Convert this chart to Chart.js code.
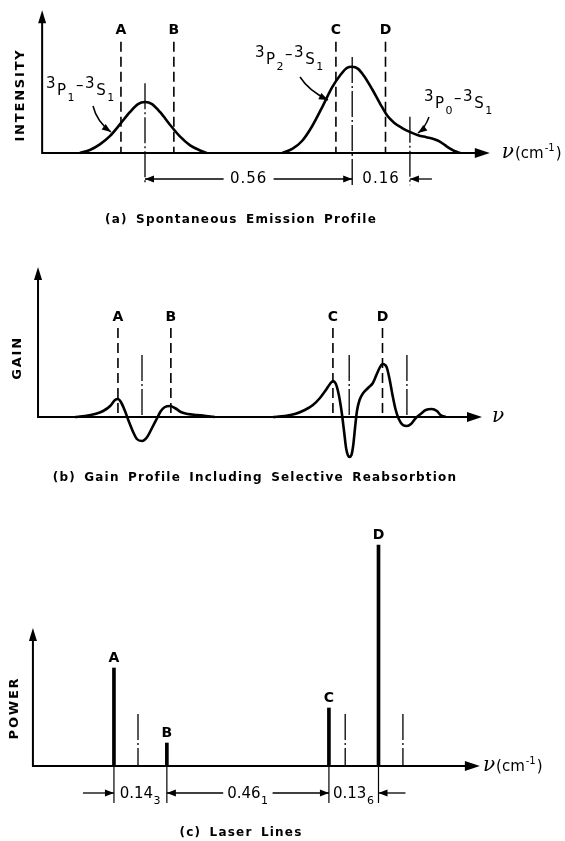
<!DOCTYPE html>
<html>
<head>
<meta charset="utf-8">
<script src="https://cdn.jsdelivr.net/npm/chart.js@4.4.0/dist/chart.umd.min.js"></script>
<style>
    html, body { margin: 0; padding: 0; background: #fff; }
    #wrap { position: relative; width: 565px; height: 841px; }
    .panel { position: absolute; left: 0; width: 565px; }
    canvas { display: block; }
</style>
</head>
<body>
<div id="wrap">
    <div class="panel" style="top:0"><canvas id="emission" width="565" height="235"></canvas></div>
    <div class="panel" style="top:235px"><canvas id="gain" width="565" height="255"></canvas></div>
    <div class="panel" style="top:490px"><canvas id="power" width="565" height="351"></canvas></div>
</div>
<script>
    "use strict";

    // Line positions, cm^-1 measured from the 3P1-3S1 centre
    var markerNames = ['A', 'B', 'C', 'D'];
    var markerPos = [-0.065, 0.078, 0.516, 0.650];
    var centrePos = [0, 0.56, 0.716];

    // (a) spontaneous emission profiles
    var emis1X = [-0.176, -0.149, -0.122, -0.095, -0.068, -0.041, -0.019, 0, 0.019, 0.041, 0.068, 0.095, 0.122, 0.149, 0.167];
    var emis1Y = [0, 0.06, 0.17, 0.33, 0.56, 0.80, 0.96, 1.0, 0.96, 0.80, 0.55, 0.32, 0.15, 0.05, 0];
    var emis2X = [0.371, 0.398, 0.425, 0.452, 0.479, 0.506, 0.528, 0.546, 0.56, 0.576, 0.592, 0.614, 0.636, 0.655, 0.674, 0.695, 0.717, 0.738, 0.76, 0.782, 0.798, 0.817, 0.836, 0.852];
    var emis2Y = [0, 0.08, 0.24, 0.53, 0.90, 1.29, 1.53, 1.67, 1.69, 1.65, 1.51, 1.25, 0.96, 0.73, 0.59, 0.49, 0.41, 0.35, 0.31, 0.27, 0.22, 0.12, 0.04, 0];
    var centreTopA = [1.37, 1.88, 0.71];
    var spacingA = ['0.56', '0.16'];

    // (b) gain with selective reabsorption
    var gain1X = [-0.181, -0.154, -0.127, -0.105, -0.086, -0.073, -0.065, -0.057, -0.046, -0.035, -0.024, -0.014, 0, 0.014, 0.027, 0.041, 0.051, 0.062, 0.076, 0.089, 0.105, 0.124, 0.149, 0.173, 0.197];
    var gain1Y = [0, 0.1, 0.3, 0.6, 1.1, 1.7, 1.8, 1.5, 0.6, -0.5, -1.5, -2.2, -2.4, -2.0, -1.1, -0.1, 0.6, 1.0, 1.1, 0.9, 0.5, 0.3, 0.2, 0.1, 0];
    var gain2X = [0.354, 0.386, 0.413, 0.440, 0.462, 0.481, 0.497, 0.508, 0.516, 0.524, 0.532, 0.540, 0.546, 0.552, 0.56, 0.566, 0.571, 0.576, 0.581, 0.588, 0.598, 0.611, 0.624, 0.637, 0.650, 0.661, 0.669, 0.677, 0.685, 0.694, 0.705, 0.716, 0.727, 0.740, 0.753, 0.767, 0.783, 0.797, 0.807, 0.821];
    var gain2Y = [0, 0.1, 0.3, 0.7, 1.2, 1.9, 2.7, 3.3, 3.6, 3.3, 2.2, 0.4, -1.4, -3.2, -4.0, -3.8, -2.8, -1.0, 0.6, 1.7, 2.4, 2.9, 3.4, 4.5, 5.3, 5.0, 3.8, 2.2, 0.8, -0.2, -0.8, -0.9, -0.7, -0.1, 0.3, 0.7, 0.8, 0.6, 0.2, 0];
    var centreTopB = 6.2;

    // (c) laser line powers
    var powerVals = [9.8, 2.3, 5.8, 22.1];
    var centreTopC = 5.2;
    var spacingC = ['0.14', '0.46', '0.13'];
    var spacingSubC = ['3', '1', '6'];

    var PX_PER_CM = 370;
    var SANS = '"DejaVu Sans"';

    function xy(xs, ys) {
        return xs.map(function (x, i) { return {x: x, y: ys[i]}; });
    }

    function curve(xs, ys) {
        return {type: 'line', data: xy(xs, ys), borderColor: '#000', borderWidth: 2.6,
            pointRadius: 0, cubicInterpolationMode: 'monotone', fill: false};
    }

    function seg(x, yFrom, yTo, width, dash) {
        return {type: 'line', data: [{x: x, y: yFrom}, {x: x, y: yTo}], borderColor: '#000',
            borderWidth: width, borderDash: dash, pointRadius: 0, tension: 0, fill: false};
    }

    function markerLines(top) {
        return markerPos.map(function (p) { return seg(p, top, 0, 1.6, [10, 5]); });
    }

    function centreLines(tops, bottom) {
        return centrePos.map(function (p, i) {
            var t = Array.isArray(tops) ? tops[i] : tops;
            return seg(p, t, bottom, 1.3, [26, 3, 2, 3]);
        });
    }

    function baseOptions(originPx, yRange) {
        return {
            responsive: false,
            animation: false,
            events: [],
            layout: {padding: 0, autoPadding: false},
            plugins: {legend: {display: false}, tooltip: {enabled: false}},
            elements: {point: {radius: 0}},
            scales: {
                x: {type: 'linear', min: -originPx / PX_PER_CM, max: (565 - originPx) / PX_PER_CM, display: false, offset: false},
                y: {type: 'linear', min: yRange[0], max: yRange[1], display: false}
            }
        };
    }

    // ---------- drawing helpers ----------
    function X(chart, v) { return chart.scales.x.getPixelForValue(v); }
    function Y(chart, v) { return chart.scales.y.getPixelForValue(v); }

    function arrowHead(ctx, x, y, ang, len, half) {
        var c = Math.cos(ang), s = Math.sin(ang);
        ctx.beginPath();
        ctx.moveTo(x, y);
        ctx.lineTo(x - len * c + half * s, y - len * s - half * c);
        ctx.lineTo(x - len * c - half * s, y - len * s + half * c);
        ctx.closePath();
        ctx.fill();
    }

    function drawAxes(chart, x0, x1, yTop) {
        var ctx = chart.ctx;
        var ox = X(chart, x0), oy = Y(chart, 0), ex = X(chart, x1), ty = Y(chart, yTop);
        ctx.save();
        ctx.strokeStyle = '#000';
        ctx.fillStyle = '#000';
        ctx.lineWidth = 2;
        ctx.beginPath();
        ctx.moveTo(ox, oy); ctx.lineTo(ex - 10, oy);
        ctx.moveTo(ox, oy + 1); ctx.lineTo(ox, ty + 10);
        ctx.stroke();
        arrowHead(ctx, ex, oy, 0, 15, 5);
        arrowHead(ctx, ox, ty, -Math.PI / 2, 13, 4);
        ctx.restore();
    }

    function label(ctx, txt, x, y, font, align, spacing) {
        ctx.save();
        ctx.font = font;
        ctx.fillStyle = '#000';
        ctx.textAlign = align || 'center';
        ctx.textBaseline = 'middle';
        if (spacing) { ctx.letterSpacing = spacing; ctx.wordSpacing = '3px'; }
        ctx.fillText(txt, x, y);
        ctx.restore();
    }

    function vertText(ctx, txt, x, y) {
        ctx.save();
        ctx.translate(x, y);
        ctx.rotate(-Math.PI / 2);
        label(ctx, txt, 0, 0, 'bold 13px ' + SANS, 'center', '1.8px');
        ctx.restore();
    }

    function run(ctx, x, y, pieces, gap) {
        ctx.save();
        ctx.fillStyle = '#000';
        ctx.textAlign = 'left';
        ctx.textBaseline = 'alphabetic';
        pieces.forEach(function (p) {
            ctx.font = p[2];
            ctx.fillText(p[0], x, y + p[1]);
            x += ctx.measureText(p[0]).width + (gap || 0);
        });
        ctx.restore();
        return x;
    }

    function runWidth(ctx, pieces, gap) {
        var w = 0;
        ctx.save();
        pieces.forEach(function (p) { ctx.font = p[2]; w += ctx.measureText(p[0]).width + (gap || 0); });
        ctx.restore();
        return w;
    }

    // spectroscopic term like 3P1-3S1
    function term(ctx, x, y, sub) {
        var big = '15px ' + SANS, small = '11px ' + SANS;
        run(ctx, x, y, [['3', 0, big], ['P', 7, big], [sub, 13, small], ['\u2013', 2, big],
            ['3', 0, big], ['S', 7, big], ['1', 13, small]], 1.5);
    }

    function curvedArrow(ctx, x0, y0, cx, cy, x1, y1) {
        ctx.save();
        ctx.lineWidth = 1.5;
        ctx.strokeStyle = '#000';
        ctx.fillStyle = '#000';
        ctx.beginPath();
        ctx.moveTo(x0, y0);
        ctx.quadraticCurveTo(cx, cy, x1, y1);
        ctx.stroke();
        arrowHead(ctx, x1, y1, Math.atan2(y1 - cy, x1 - cx), 9, 3.5);
        ctx.restore();
    }

    function dimArrow(ctx, xFrom, xTo, y) {
        ctx.save();
        ctx.lineWidth = 1.3;
        ctx.strokeStyle = '#000';
        ctx.fillStyle = '#000';
        ctx.beginPath();
        ctx.moveTo(xFrom, y); ctx.lineTo(xTo, y);
        ctx.stroke();
        arrowHead(ctx, xTo, y, xTo > xFrom ? 0 : Math.PI, 9, 3.5);
        ctx.restore();
    }

    function vline(ctx, x, y0, y1, w) {
        ctx.save();
        ctx.lineWidth = w || 1.3;
        ctx.strokeStyle = '#000';
        ctx.beginPath(); ctx.moveTo(x, y0); ctx.lineTo(x, y1); ctx.stroke();
        ctx.restore();
    }

    function nuLabel(ctx, x, y, withUnit) {
        var nu = [['\u03bd', 0, 'italic 20px "DejaVu Serif"']];
        if (withUnit) {
            nu = nu.concat([['(cm', 0, '15px ' + SANS], ['-1', -7, '10px ' + SANS], [')', 0, '15px ' + SANS]]);
        }
        run(ctx, x, y + 5, nu, 1);
    }

    function markerLabels(chart, levels) {
        markerNames.forEach(function (n, i) {
            var lv = Array.isArray(levels) ? Y(chart, levels[i]) - 10 : Y(chart, levels);
            label(chart.ctx, n, X(chart, markerPos[i]), lv, 'bold 14px ' + SANS);
        });
    }

    // ---------- (a) Spontaneous Emission Profile ----------
    var emissionPanel = {
        id: 'emissionPanel',
        afterDatasetsDraw: function (chart) {
            var ctx = chart.ctx;
            drawAxes(chart, -0.278, 0.932, 2.8);
            markerLabels(chart, 2.41);
            nuLabel(ctx, X(chart, 0.932) + 12, Y(chart, 0), true);
            vertText(ctx, 'INTENSITY', 21, 95);

            term(ctx, 46, 88, '1');
            curvedArrow(ctx, 93, 106, 97, 122, 111, 132);
            term(ctx, 255, 57, '2');
            curvedArrow(ctx, 300, 77, 309, 91, 328, 100);
            term(ctx, 424, 101, '0');
            curvedArrow(ctx, 429, 117, 425, 128, 418, 133);

            // spacings between profile centres
            var dimY = Y(chart, 0) + 26;
            var c0 = X(chart, centrePos[0]), c1 = X(chart, centrePos[1]), c2 = X(chart, centrePos[2]);
            var mid = (c0 + c1) / 2;
            label(ctx, spacingA[0], mid, dimY, '15px ' + SANS, 'center', '1px');
            dimArrow(ctx, mid - 25, c0, dimY);
            dimArrow(ctx, mid + 25, c1, dimY);
            label(ctx, spacingA[1], (c1 + c2) / 2, dimY, '15px ' + SANS, 'center', '1px');
            dimArrow(ctx, c2 + 22, c2, dimY);

            label(ctx, '(a) Spontaneous Emission Profile', 241, 220, 'bold 12px ' + SANS, 'center', '1.2px');
        }
    };

    new Chart(document.getElementById('emission'), {
        type: 'line',
        data: {
            datasets: [curve(emis1X, emis1Y), curve(emis2X, emis2Y)]
                .concat(markerLines(2.18))
                .concat(centreLines(centreTopA, -0.63))
        },
        options: baseOptions(145, [-82 / 51, 153 / 51]),
        plugins: [emissionPanel]
    });

    // ---------- (b) Gain Profile ----------
    var gainPanel = {
        id: 'gainPanel',
        afterDatasetsDraw: function (chart) {
            var ctx = chart.ctx;
            drawAxes(chart, -0.281, 0.919, 15.0);
            markerLabels(chart, 10.0);
            nuLabel(ctx, X(chart, 0.919) + 10, Y(chart, 0), false);
            vertText(ctx, 'GAIN', 18, 123);
            label(ctx, '(b) Gain Profile Including Selective Reabsorbtion', 255, 243, 'bold 12px ' + SANS, 'center', '1.2px');
        }
    };

    new Chart(document.getElementById('gain'), {
        type: 'line',
        data: {
            datasets: [curve(gain1X, gain1Y), curve(gain2X, gain2Y)]
                .concat(markerLines(8.9))
                .concat(centreLines(centreTopB, 0))
        },
        options: baseOptions(142, [-7.3, 18.2]),
        plugins: [gainPanel]
    });

    // ---------- (c) Laser Lines ----------
    var powerPanel = {
        id: 'powerPanel',
        afterDatasetsDraw: function (chart) {
            var ctx = chart.ctx;
            drawAxes(chart, -0.284, 0.924, 13.8);
            markerLabels(chart, powerVals);
            nuLabel(ctx, X(chart, 0.924) + 3, Y(chart, 0), true);
            vertText(ctx, 'POWER', 15, 218);

            var base = Y(chart, 0), dimY = base + 27;
            var xs = markerPos.map(function (p) { return X(chart, p); });
            xs.forEach(function (x) { vline(ctx, x, base, base + 37, 1.2); });

            var big = '15px ' + SANS, small = '11px ' + SANS;
            var bounds = [];
            spacingC.forEach(function (t, i) {
                var pieces = [[t, 0, big], [spacingSubC[i], 6, small]];
                var w = runWidth(ctx, pieces, 0.5);
                var mid = (xs[i] + xs[i + 1]) / 2;
                run(ctx, mid - w / 2, dimY + 5, pieces, 0.5);
                bounds.push([mid - w / 2, mid + w / 2]);
            });
            dimArrow(ctx, xs[0] - 31, xs[0], dimY);
            dimArrow(ctx, bounds[1][0] - 4, xs[1], dimY);
            dimArrow(ctx, bounds[1][1] + 4, xs[2], dimY);
            dimArrow(ctx, xs[3] + 27, xs[3], dimY);

            label(ctx, '(c) Laser Lines', 241, 343, 'bold 12px ' + SANS, 'center', '1.2px');
        }
    };

    new Chart(document.getElementById('power'), {
        type: 'line',
        data: {
            datasets: [{
                type: 'bar',
                data: xy(markerPos, powerVals),
                backgroundColor: '#000',
                borderWidth: 0,
                barThickness: 3,
                grouped: false
            }].concat(centreLines(centreTopC, 0))
        },
        options: baseOptions(138, [-7.5, 27.6]),
        plugins: [powerPanel]
    });
</script>
</body>
</html>
